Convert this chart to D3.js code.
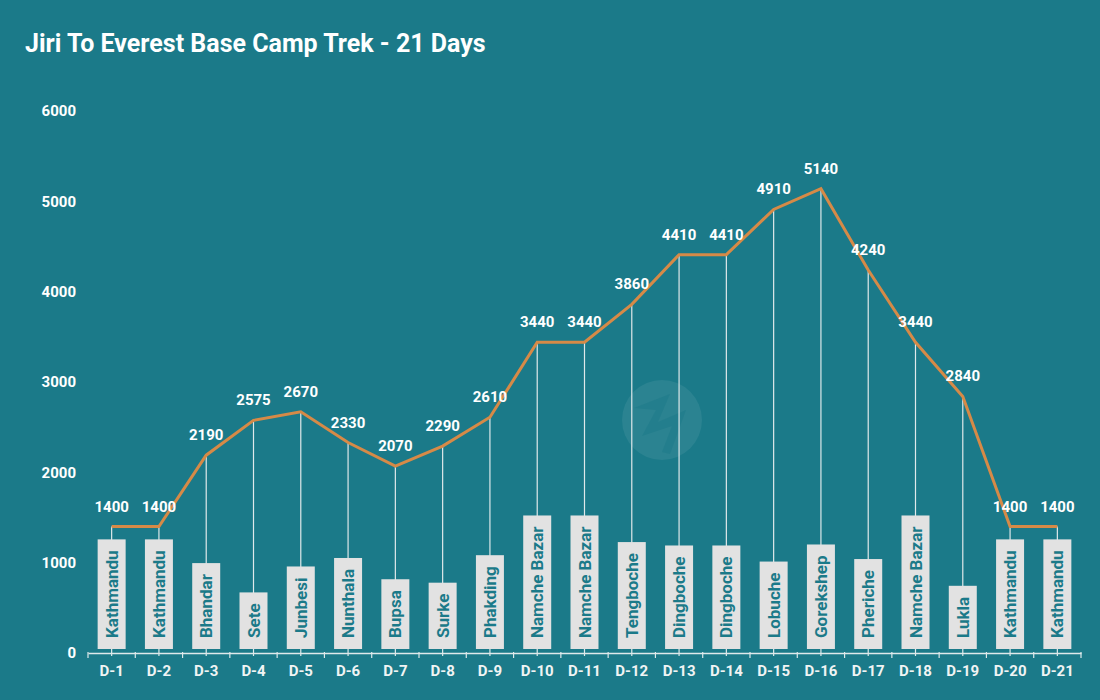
<!DOCTYPE html>
<html>
<head>
<meta charset="utf-8">
<script src="https://cdn.jsdelivr.net/npm/d3@7"></script>
<style>
  html, body { margin: 0; padding: 0; background: #1b7a89; }
  svg { display: block; font-family: Roboto, "Noto Sans", sans-serif; }
</style>
</head>
<body>
<svg id="chart" width="1100" height="700"></svg>
<script>
const days = ["D-1","D-2","D-3","D-4","D-5","D-6","D-7","D-8","D-9","D-10","D-11","D-12","D-13","D-14","D-15","D-16","D-17","D-18","D-19","D-20","D-21"];
const places = ["Kathmandu","Kathmandu","Bhandar","Sete","Junbesi","Nunthala","Bupsa","Surke","Phakding","Namche Bazar","Namche Bazar","Tengboche","Dingboche","Dingboche","Lobuche","Gorekshep","Pheriche","Namche Bazar","Lukla","Kathmandu","Kathmandu"];
const altitudes = [1400,1400,2190,2575,2670,2330,2070,2290,2610,3440,3440,3860,4410,4410,4910,5140,4240,3440,2840,1400,1400];
const yTicks = [0,1000,2000,3000,4000,5000,6000];
const title = "Jiri To Everest Base Camp Trek - 21 Days";

const svg = d3.select("#chart");
const W = 1100, H = 700;
const margin = {left: 88, right: 19, top: 111, bottom: 47};
const plotBottom = H - margin.bottom;

svg.append("rect").attr("width", W).attr("height", H).attr("fill", "#1b7a89");

svg.append("text")
  .attr("x", 25).attr("y", 52)
  .attr("fill", "#ffffff")
  .attr("font-size", 25).attr("font-weight", 700)
  .text(title);

const x = d3.scaleBand().domain(days).range([margin.left, W - margin.right]).padding(0);
const y = d3.scaleLinear().domain([0, 6000]).range([plotBottom, margin.top]);
const cx = d => x(d) + x.bandwidth() / 2;

// watermark
const wm = svg.append("g").attr("transform", "translate(662,420)");
wm.append("circle").attr("r", 40).attr("fill", "#ffffff").attr("opacity", 0.07);
wm.append("path").attr("d", "M-28,-12 L8,-26 L-4,2 L24,-10 L8,34 L0,32 L10,6 L-20,16 L-6,-10 Z")
  .attr("fill", "#1b7a89").attr("opacity", 0.5);

// y axis labels
svg.append("g").selectAll("text").data(yTicks).join("text")
  .attr("x", 76).attr("y", d => y(d)).attr("dy", "0.35em")
  .attr("text-anchor", "end")
  .attr("fill", "#ffffff").attr("font-size", 15).attr("font-weight", 700)
  .text(d => d);

// vertical drop lines
svg.append("g").selectAll("line").data(days).join("line")
  .attr("x1", d => cx(d)).attr("x2", d => cx(d))
  .attr("y1", (d, i) => y(altitudes[i])).attr("y2", plotBottom + 3)
  .attr("stroke", "#dfe9eb").attr("stroke-width", 1.2);

// x axis
const xAxis = d3.axisBottom(x).tickSize(0).tickPadding(12);
const gx = svg.append("g").attr("transform", `translate(0,${plotBottom})`).call(xAxis);
gx.select(".domain").attr("stroke", "#dfe9eb").attr("stroke-width", 1.5);
gx.selectAll("text").attr("fill", "#f0f4f4").attr("font-size", 15).attr("font-weight", 700)
  .attr("font-family", "Roboto, sans-serif");
// boundary ticks
const bounds = days.map(d => x(d)).concat([x(days[days.length - 1]) + x.bandwidth()]);
svg.append("g").selectAll("line").data(bounds).join("line")
  .attr("x1", d => d).attr("x2", d => d)
  .attr("y1", plotBottom - 1).attr("y2", plotBottom + 5)
  .attr("stroke", "#dfe9eb").attr("stroke-width", 1.2);

// place boxes
const boxW = 28, pad = 11, boxBottom = plotBottom - 4;
const gBoxes = svg.append("g");
days.forEach((d, i) => {
  const g = gBoxes.append("g");
  const rect = g.append("rect").attr("fill", "#e2e2e2");
  const t = g.append("text")
    .attr("transform", `translate(${cx(d) + 6},${boxBottom - pad}) rotate(-90)`)
    .attr("fill", "#1b7a89").attr("font-size", 17).attr("font-weight", 700)
    .text(places[i]);
  const len = t.node().getComputedTextLength();
  rect.attr("x", cx(d) - boxW / 2).attr("width", boxW)
    .attr("y", boxBottom - len - 2 * pad).attr("height", len + 2 * pad);
});

// altitude line
const line = d3.line().x((d, i) => cx(days[i])).y(d => y(d));
svg.append("path").datum(altitudes)
  .attr("d", line).attr("fill", "none")
  .attr("stroke", "#d68a47").attr("stroke-width", 3).attr("stroke-linejoin", "miter");

// value labels
svg.append("g").selectAll("text").data(altitudes).join("text")
  .attr("x", (d, i) => cx(days[i])).attr("y", d => y(d) - 15)
  .attr("text-anchor", "middle")
  .attr("fill", "#ffffff").attr("font-size", 15).attr("font-weight", 700)
  .text(d => d);
</script>
</body>
</html>
